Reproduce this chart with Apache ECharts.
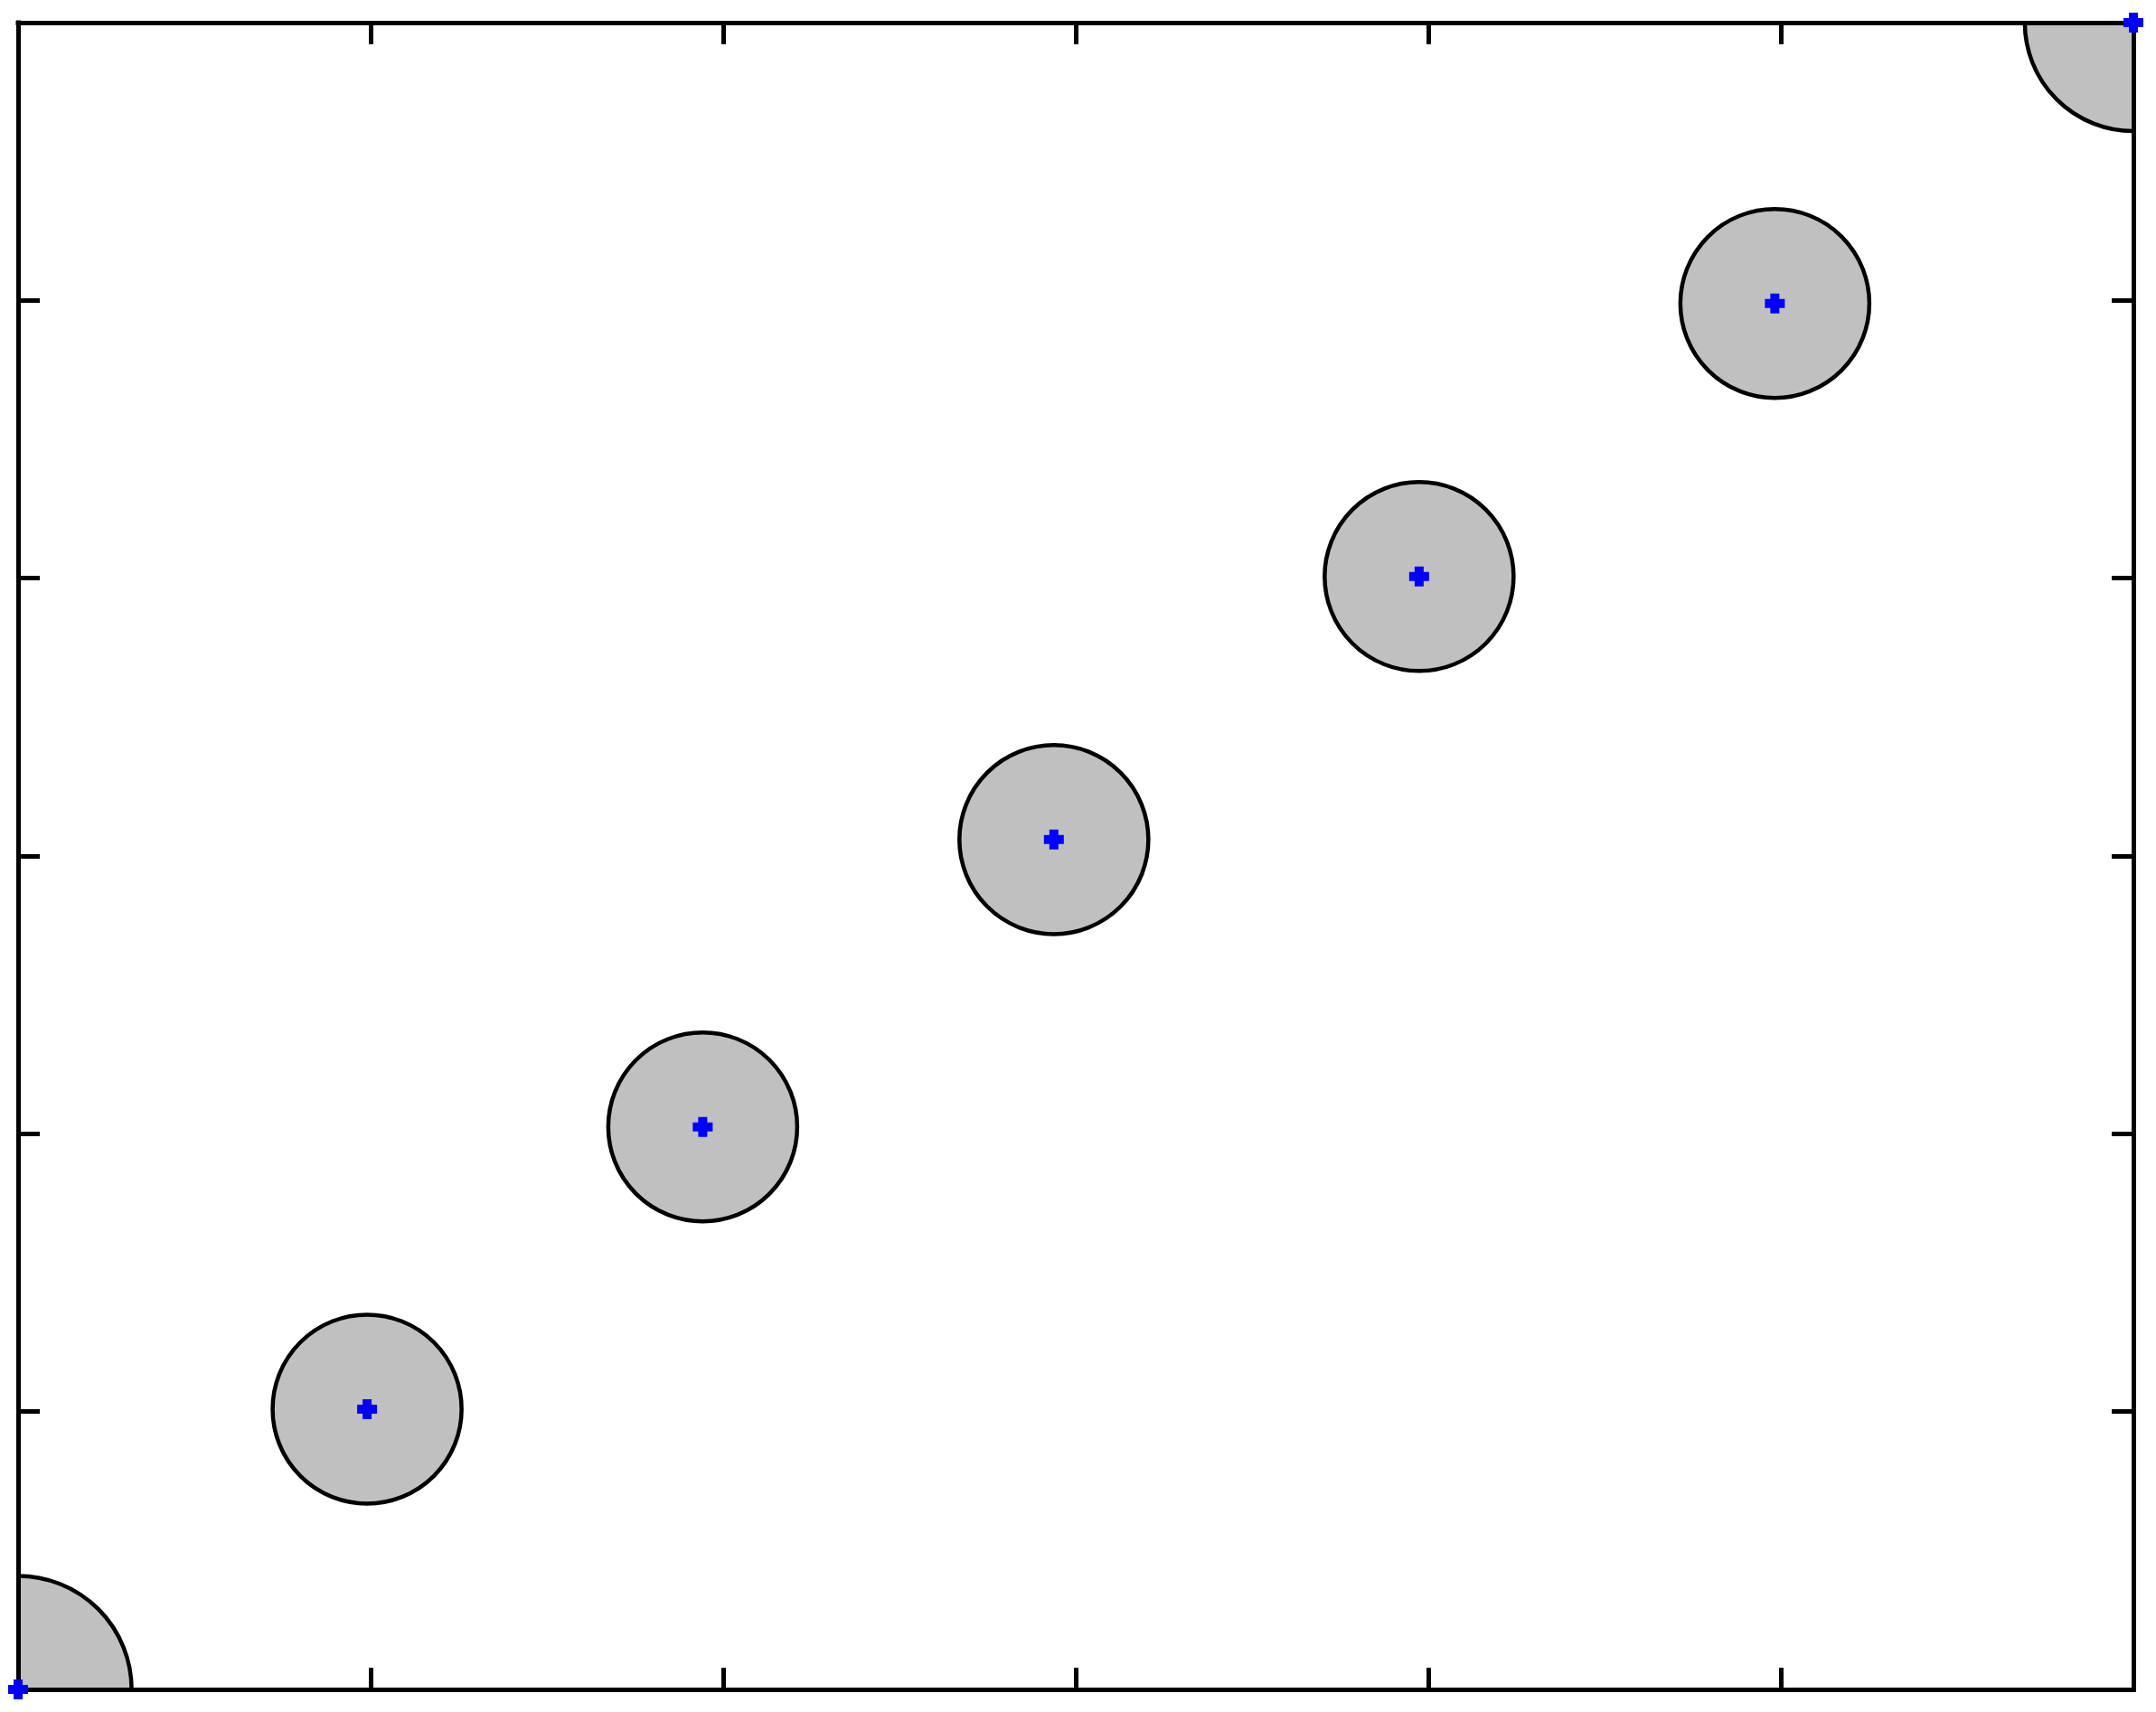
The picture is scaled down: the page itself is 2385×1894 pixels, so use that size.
<!DOCTYPE html>
<html>
<head>
<meta charset="utf-8">
<script src="https://cdn.jsdelivr.net/npm/echarts@6/dist/echarts.min.js"></script>
<style>
  html, body { margin: 0; padding: 0; background: #fff; }
  #chart { width: 2385px; height: 1894px; }
</style>
</head>
<body>
<div id="chart"></div>
<script>
// disk centres and radii (radius in x-axis units)
const xs = [0, 0.99, 1.942, 2.938, 3.974, 4.983, 6];
const ys = [0, 1.009, 2.025, 3.059, 4.006, 4.989, 6];
const radii = [0.322, 0.268, 0.268, 0.268, 0.268, 0.268, 0.308];
const tickValues = [0, 1, 2, 3, 4, 5, 6];

const chart = echarts.init(document.getElementById('chart'));

const disks = xs.map((x, i) => [x, ys[i], radii[i]]);
const centres = xs.map((x, i) => [x, ys[i]]);

const lineStyle = { color: '#000', width: 5, cap: 'square' };
const tick = { show: true, inside: true, length: 24, lineStyle: { color: '#000', width: 5 } };

function axis(pos) {
    return {
        type: 'value',
        position: pos,
        min: tickValues[0],
        max: tickValues[tickValues.length - 1],
        interval: 1,
        z: 10,
        axisLine: { show: true, onZero: false, lineStyle },
        axisTick: tick,
        axisLabel: { show: false },
        splitLine: { show: false },
    };
}

chart.setOption({
    backgroundColor: '#fff',
    animation: false,
    grid: { left: 20, right: 25, top: 25, bottom: 25 },
    xAxis: [axis('bottom'), axis('top')],
    yAxis: [axis('left'), axis('right')],
    series: [
        {
            type: 'custom',
            clip: true,
            z: 2,
            data: disks,
            renderItem: (params, api) => {
                const c = api.coord([api.value(0), api.value(1)]);
                const r = api.size([api.value(2), 0])[0];
                return {
                    type: 'circle',
                    shape: { cx: c[0], cy: c[1], r },
                    style: { fill: '#c0c0c0', stroke: '#000', lineWidth: 4.5 },
                };
            },
        },
        {
            type: 'scatter',
            z: 20,
            clip: false,
            data: centres,
            symbol: 'path://M6,0H16V6H22V16H16V22H6V16H0V6H6Z',
            symbolSize: 22,
            itemStyle: { color: '#0000ff', opacity: 1 },
        },
    ],
});
</script>
</body>
</html>
